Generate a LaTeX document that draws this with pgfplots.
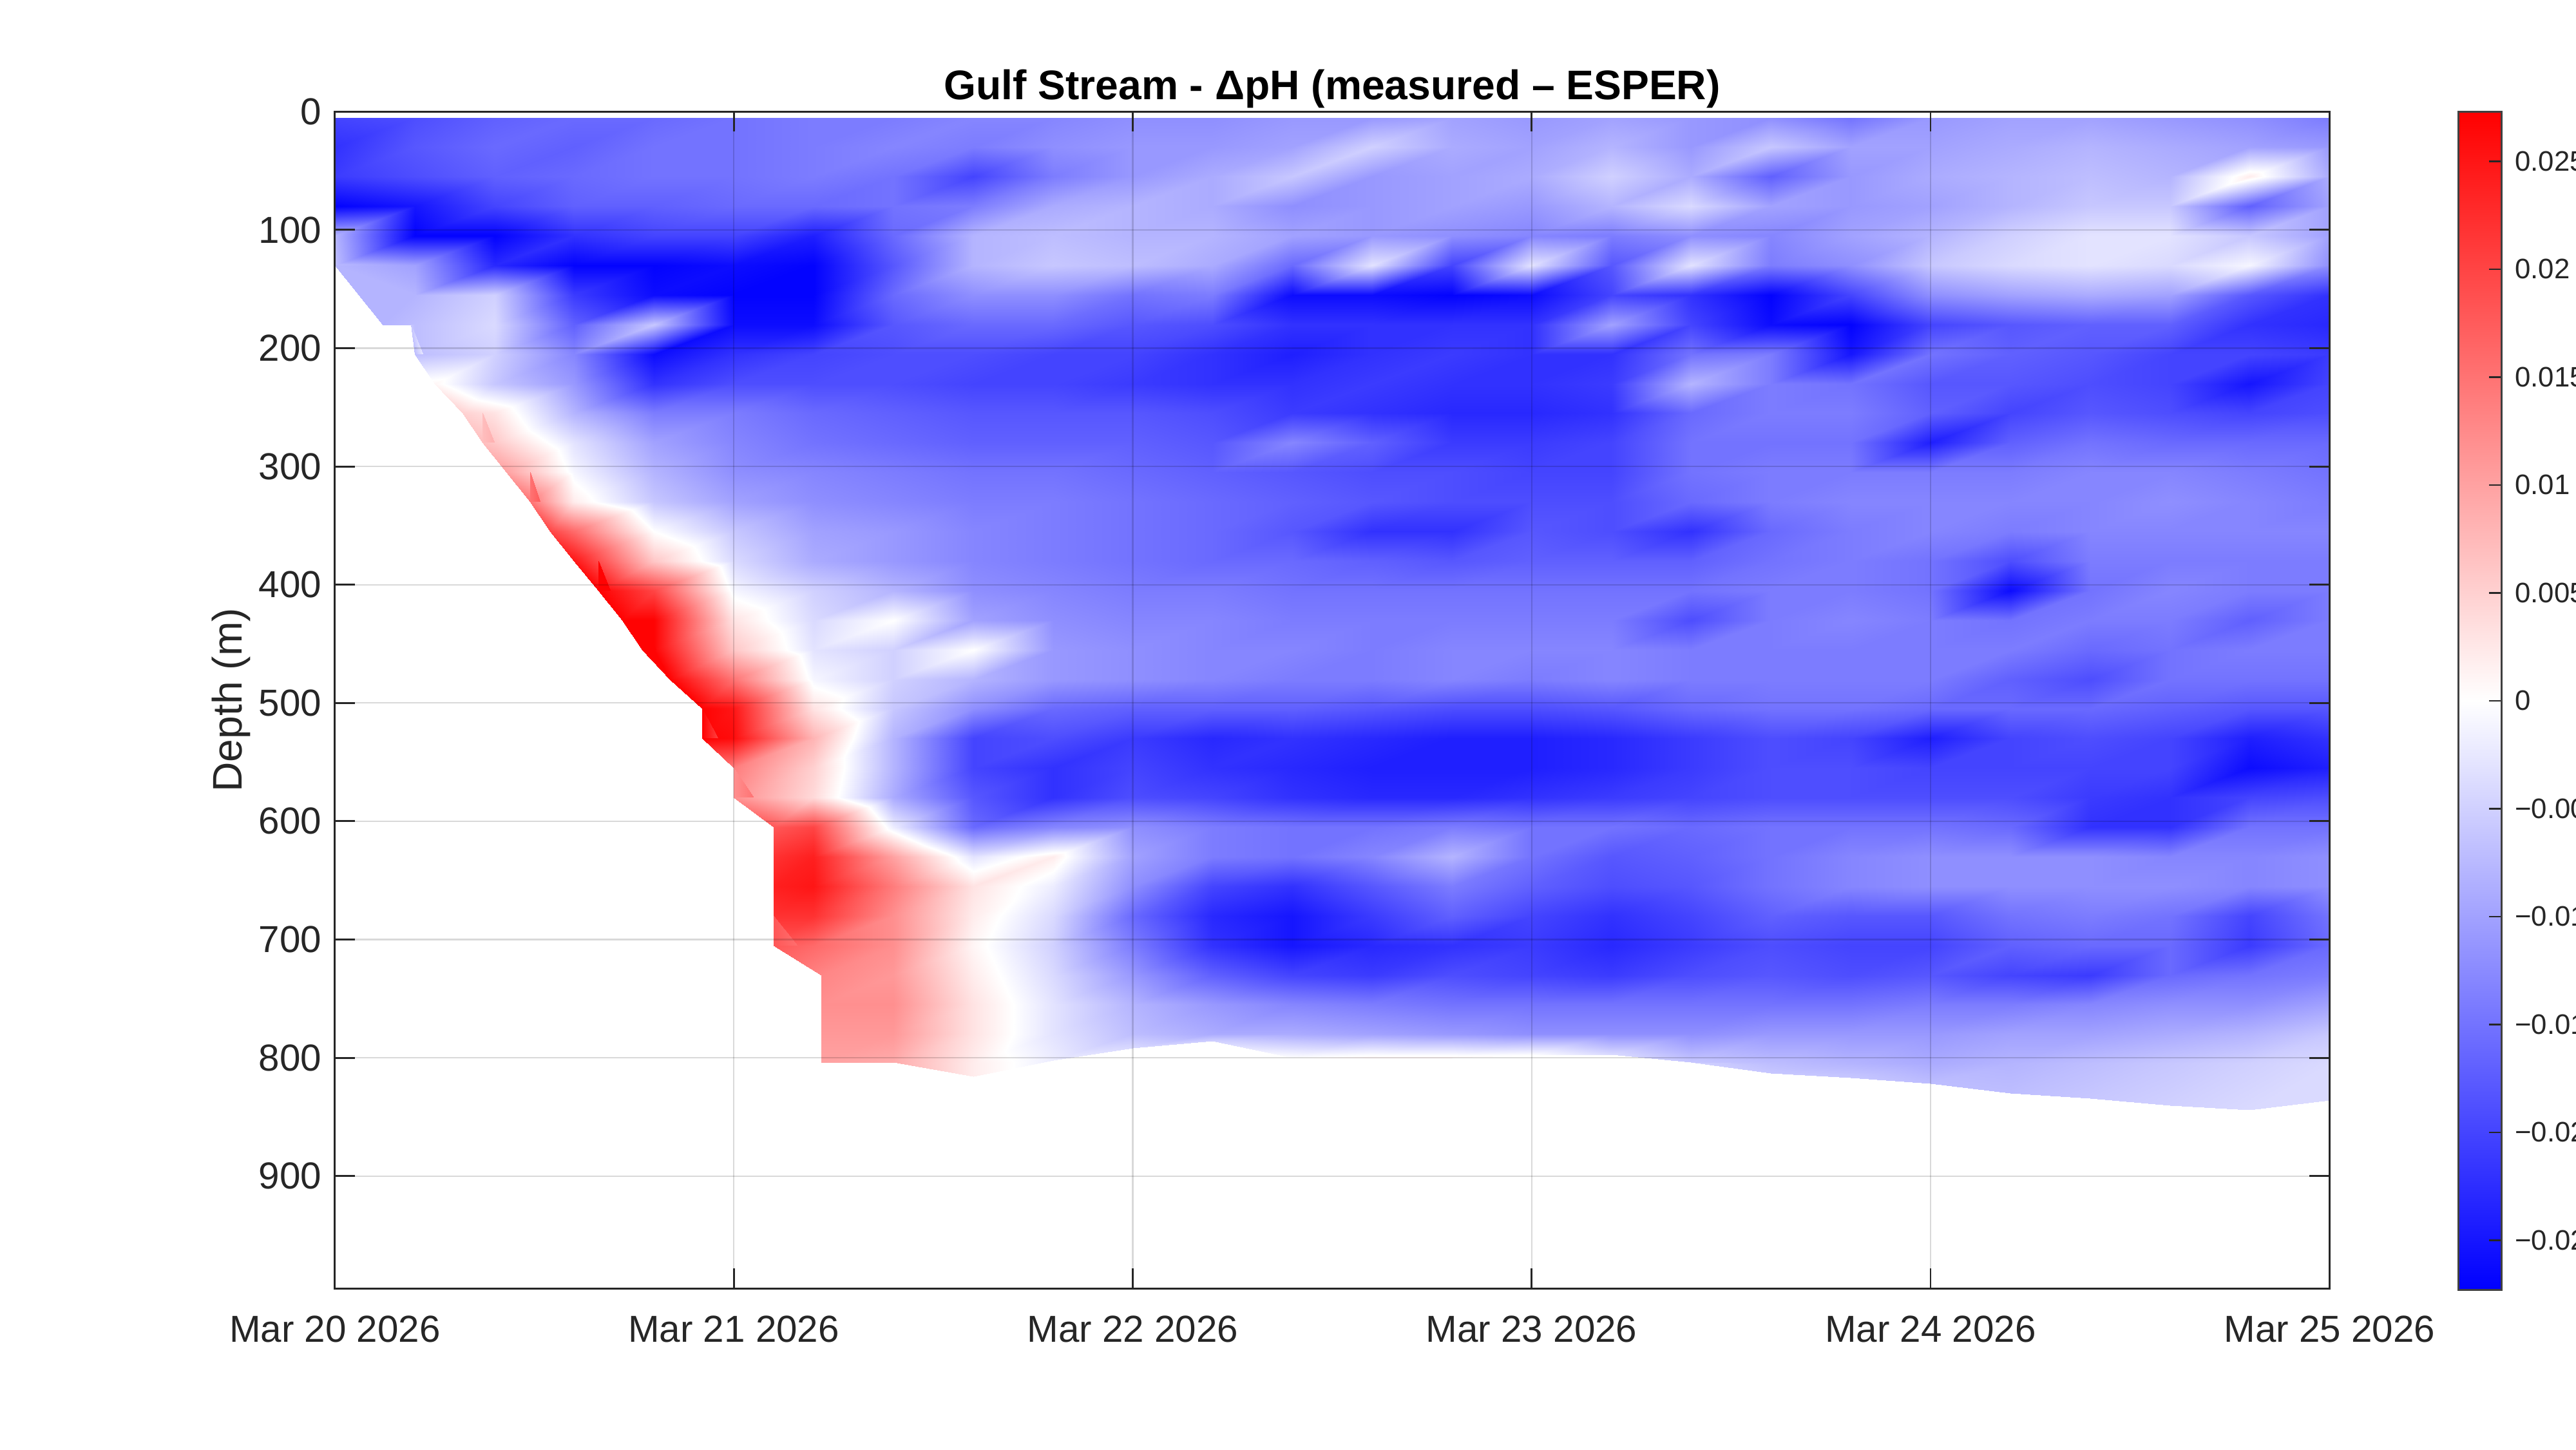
\documentclass[border=0pt]{standalone}
\usepackage{fontspec}
\setmainfont{Liberation Sans}
\usepackage{pgfplots}
\usepackage{pgfplotstable}
\pgfplotsset{compat=1.18}

% Each entry: dpH (units of 0.001 pH), left data edge xb (days; grid x below it is moved to it),
% depth offset dy (m, for the lower data edge). One line per depth 5, 30, ..., 830 m;
% 26 entries per line for days 0, 0.2, ..., 5.0 after Mar 20 2026.
\pgfplotstableread[row sep=\\, header=false]{
-20 0 0\\-19 0 0\\-17 0 0\\-16 0 0\\-16 0 0\\-15 0 0\\-14 0 0\\-14 0 0\\-13 0 0\\-13 0 0\\-12 0 0\\-12 0 0\\-11 0 0\\-11 0 0\\-10 0 0\\-11 0 0\\-10 0 0\\-11 0 0\\-12 0 0\\-15 0 0\\-11 0 0\\-10 0 0\\-10 0 0\\-11 0 0\\-12 0 0\\-14 0 0\\
-22 0 0\\-18 0 0\\-16 0 0\\-17 0 0\\-15 0 0\\-15 0 0\\-14 0 0\\-13 0 0\\-14 0 0\\-12 0 0\\-11 0 0\\-11 0 0\\-10 0 0\\-5 0 0\\-9 0 0\\-10 0 0\\-8 0 0\\-11 0 0\\-6 0 0\\-10 0 0\\-10 0 0\\-9 0 0\\-8 0 0\\-9 0 0\\-10 0 0\\-11 0 0\\
-21 0 0\\-19 0 0\\-17 0 0\\-16 0 0\\-15 0 0\\-15 0 0\\-14 0 0\\-15 0 0\\-20 0 0\\-14 0 0\\-11 0 0\\-9 0 0\\-6 0 0\\-11 0 0\\-10 0 0\\-9 0 0\\-5 0 0\\-9 0 0\\-17 0 0\\-11 0 0\\-9 0 0\\-8 0 0\\-7 0 0\\-8 0 0\\2 0 0\\-9 0 0\\
-27 0 0\\-25 0 0\\-20 0 0\\-17 0 0\\-17 0 0\\-16 0 0\\-16 0 0\\-15 0 0\\-14 0 0\\-9 0 0\\-8 0 0\\-9 0 0\\-12 0 0\\-11 0 0\\-10 0 0\\-11 0 0\\-8 0 0\\-4 0 0\\-10 0 0\\-11 0 0\\-10 0 0\\-8 0 0\\-6 0 0\\-6 0 0\\-17 0 0\\-10 0 0\\
-8 0 0\\-27 0 0\\-27 0 0\\-22 0 0\\-20 0 0\\-20 0 0\\-24 0 0\\-16 0 0\\-8 0 0\\-7 0 0\\-8 0 0\\-8 0 0\\-10 0 0\\-11 0 0\\-12 0 0\\-13 0 0\\-14 0 0\\-12 0 0\\-13 0 0\\-10 0 0\\-8 0 0\\-5 0 0\\-3 0 0\\-3 0 0\\-6 0 0\\-10 0 0\\
-7 0 0\\-10 0 0\\-23 0 0\\-27 0 0\\-27 0 0\\-26 0 0\\-27 0 0\\-18 0 0\\-8 0 0\\-6 0 0\\-7 0 0\\-9 0 0\\-16 0 0\\-3 0 0\\-20 0 0\\-3 0 0\\-18 0 0\\-3 0 0\\-14 0 0\\-12 0 0\\-6 0 0\\-4 0 0\\-3 0 0\\-4 0 0\\-1 0 0\\-12 0 0\\
-8 0 0\\-8 0 0\\-5 0 0\\-21 0 0\\-26 0 0\\-27 0 0\\-27 0 0\\-16 0 0\\-12 0 0\\-12 0 0\\-15 0 0\\-14 0 0\\-26 0 0\\-26 0 0\\-27 0 0\\-26 0 0\\-20 0 0\\-22 0 0\\-27 0 0\\-20 0 0\\-12 0 0\\-10 0 0\\-9 0 0\\-10 0 0\\-18 0 0\\-22 0 0\\
-8 0.12 0\\-7 0.12 0\\-4 0.12 0\\-17 0.12 0\\-6 0.12 0\\-26 0.12 0\\-26 0.12 0\\-18 0.12 0\\-16 0.12 0\\-16 0.12 0\\-18 0.12 0\\-19 0.12 0\\-22 0.12 0\\-22 0.12 0\\-22 0.12 0\\-22 0.12 0\\-10 0.12 0\\-20 0.12 0\\-26 0.12 0\\-27 0.12 0\\-20 0.12 0\\-18 0.12 0\\-17 0.12 0\\-17 0.12 0\\-22 0.12 0\\-23 0.12 0\\
-6 0.19 0\\-7 0.19 0\\-5 0.19 0\\-13 0.19 0\\-26 0.19 0\\-22 0.19 0\\-20 0.19 0\\-19 0.19 0\\-19 0.19 0\\-20 0.19 0\\-20 0.19 0\\-22 0.19 0\\-24 0.19 0\\-22 0.19 0\\-21 0.19 0\\-22 0.19 0\\-22 0.19 0\\-15 0.19 0\\-14 0.19 0\\-25 0.19 0\\-15 0.19 0\\-17 0.19 0\\-18 0.19 0\\-20 0.19 0\\-20 0.19 0\\-21 0.19 0\\
1 0.25 0\\1 0.25 0\\-6 0.25 0\\-11 0.25 0\\-22 0.25 0\\-19 0.25 0\\-19 0.25 0\\-19 0.25 0\\-20 0.25 0\\-20 0.25 0\\-21 0.25 0\\-22 0.25 0\\-22 0.25 0\\-21 0.25 0\\-22 0.25 0\\-22 0.25 0\\-21 0.25 0\\-8 0.25 0\\-14 0.25 0\\-15 0.25 0\\-18 0.25 0\\-18 0.25 0\\-19 0.25 0\\-20 0.25 0\\-25 0.25 0\\-20 0.25 0\\
5 0.32 0\\5 0.32 0\\3 0.32 0\\-8 0.32 0\\-14 0.32 0\\-14 0.32 0\\-16 0.32 0\\-17 0.32 0\\-18 0.32 0\\-18 0.32 0\\-18 0.32 0\\-19 0.32 0\\-21 0.32 0\\-22 0.32 0\\-23 0.32 0\\-23 0.32 0\\-22 0.32 0\\-16 0.32 0\\-14 0.32 0\\-14 0.32 0\\-17 0.32 0\\-20 0.32 0\\-18 0.32 0\\-19 0.32 0\\-20 0.32 0\\-19 0.32 0\\
7 0.37 0\\7 0.37 0\\6 0.37 0\\-3 0.37 0\\-10 0.37 0\\-13 0.37 0\\-15 0.37 0\\-16 0.37 0\\-17 0.37 0\\-17 0.37 0\\-17 0.37 0\\-18 0.37 0\\-13 0.37 0\\-17 0.37 0\\-21 0.37 0\\-21 0.37 0\\-20 0.37 0\\-15 0.37 0\\-15 0.37 0\\-15 0.37 0\\-24 0.37 0\\-17 0.37 0\\-15 0.37 0\\-16 0.37 0\\-16 0.37 0\\-16 0.37 0\\
10 0.43 0\\10 0.43 0\\10 0.43 0\\-1 0.43 0\\-8 0.43 0\\-12 0.43 0\\-13 0.43 0\\-14 0.43 0\\-15 0.43 0\\-15 0.43 0\\-16 0.43 0\\-17 0.43 0\\-18 0.43 0\\-19 0.43 0\\-19 0.43 0\\-20 0.43 0\\-20 0.43 0\\-15 0.43 0\\-14 0.43 0\\-14 0.43 0\\-14 0.43 0\\-14 0.43 0\\-13 0.43 0\\-13 0.43 0\\-14 0.43 0\\-15 0.43 0\\
15 0.49 0\\15 0.49 0\\15 0.49 0\\2 0.49 0\\-6 0.49 0\\-10 0.49 0\\-12 0.49 0\\-13 0.49 0\\-14 0.49 0\\-14 0.49 0\\-15 0.49 0\\-16 0.49 0\\-17 0.49 0\\-18 0.49 0\\-19 0.49 0\\-19 0.49 0\\-19 0.49 0\\-16 0.49 0\\-14 0.49 0\\-13 0.49 0\\-13 0.49 0\\-13 0.49 0\\-13 0.49 0\\-12 0.49 0\\-13 0.49 0\\-14 0.49 0\\
20 0.54 0\\20 0.54 0\\20 0.54 0\\16 0.54 0\\0 0.54 0\\-6 0.54 0\\-10 0.54 0\\-11 0.54 0\\-13 0.54 0\\-14 0.54 0\\-15 0.54 0\\-16 0.54 0\\-18 0.54 0\\-22 0.54 0\\-22 0.54 0\\-18 0.54 0\\-19 0.54 0\\-22 0.54 0\\-16 0.54 0\\-14 0.54 0\\-13 0.54 0\\-14 0.54 0\\-13 0.54 0\\-13 0.54 0\\-13 0.54 0\\-13 0.54 0\\
25 0.6 0\\25 0.6 0\\25 0.6 0\\25 0.6 0\\6 0.6 0\\-4 0.6 0\\-9 0.6 0\\-11 0.6 0\\-13 0.6 0\\-14 0.6 0\\-15 0.6 0\\-16 0.6 0\\-16 0.6 0\\-17 0.6 0\\-18 0.6 0\\-17 0.6 0\\-17 0.6 0\\-17 0.6 0\\-15 0.6 0\\-14 0.6 0\\-15 0.6 0\\-19 0.6 0\\-14 0.6 0\\-14 0.6 0\\-14 0.6 0\\-14 0.6 0\\
27 0.66 0\\27 0.66 0\\27 0.66 0\\27 0.66 0\\20 0.66 0\\-1 0.66 0\\-5 0.66 0\\-8 0.66 0\\-12 0.66 0\\-13 0.66 0\\-14 0.66 0\\-14 0.66 0\\-15 0.66 0\\-15 0.66 0\\-15 0.66 0\\-15 0.66 0\\-15 0.66 0\\-15 0.66 0\\-14 0.66 0\\-14 0.66 0\\-15 0.66 0\\-26 0.66 0\\-15 0.66 0\\-13 0.66 0\\-14 0.66 0\\-14 0.66 0\\
27 0.72 0\\27 0.72 0\\27 0.72 0\\27 0.72 0\\27 0.72 0\\3 0.72 0\\-4 0.72 0\\0 0.72 0\\-10 0.72 0\\-12 0.72 0\\-13 0.72 0\\-13 0.72 0\\-14 0.72 0\\-14 0.72 0\\-14 0.72 0\\-14 0.72 0\\-14 0.72 0\\-19 0.72 0\\-14 0.72 0\\-13 0.72 0\\-14 0.72 0\\-15 0.72 0\\-14 0.72 0\\-14 0.72 0\\-17 0.72 0\\-14 0.72 0\\
27 0.77 0\\27 0.77 0\\27 0.77 0\\27 0.77 0\\27 0.77 0\\6 0.77 0\\-3 0.77 0\\-5 0.77 0\\0 0.77 0\\-11 0.77 0\\-12 0.77 0\\-13 0.77 0\\-13 0.77 0\\-14 0.77 0\\-13 0.77 0\\-13 0.77 0\\-13 0.77 0\\-14 0.77 0\\-14 0.77 0\\-14 0.77 0\\-14 0.77 0\\-14 0.77 0\\-16 0.77 0\\-15 0.77 0\\-14 0.77 0\\-14 0.77 0\\
27 0.84 0\\27 0.84 0\\27 0.84 0\\27 0.84 0\\27 0.84 0\\15 0.84 0\\-1 0.84 0\\-5 0.84 0\\-8 0.84 0\\-11 0.84 0\\-12 0.84 0\\-13 0.84 0\\-14 0.84 0\\-14 0.84 0\\-13 0.84 0\\-14 0.84 0\\-13 0.84 0\\-14 0.84 0\\-14 0.84 0\\-14 0.84 0\\-14 0.84 0\\-17 0.84 0\\-19 0.84 0\\-15 0.84 0\\-15 0.84 0\\-15 0.84 0\\
27 0.92 0\\27 0.92 0\\27 0.92 0\\27 0.92 0\\27 0.92 0\\25 0.92 0\\3 0.92 0\\-6 0.92 0\\-12 0.92 0\\-16 0.92 0\\-17 0.92 0\\-17 0.92 0\\-17 0.92 0\\-18 0.92 0\\-19 0.92 0\\-19 0.92 0\\-18 0.92 0\\-16 0.92 0\\-15 0.92 0\\-15 0.92 0\\-16 0.92 0\\-16 0.92 0\\-16 0.92 0\\-17 0.92 0\\-18 0.92 0\\-18 0.92 0\\
27 0.92 0\\27 0.92 0\\27 0.92 0\\27 0.92 0\\27 0.92 0\\26 0.92 0\\8 0.92 0\\-8 0.92 0\\-20 0.92 0\\-19 0.92 0\\-21 0.92 0\\-23 0.92 0\\-22 0.92 0\\-23 0.92 0\\-24 0.92 0\\-24 0.92 0\\-23 0.92 0\\-21 0.92 0\\-19 0.92 0\\-20 0.92 0\\-24 0.92 0\\-20 0.92 0\\-19 0.92 0\\-20 0.92 0\\-24 0.92 0\\-22 0.92 0\\
14 1 0\\14 1 0\\14 1 0\\14 1 0\\14 1 0\\14 1 0\\5 1 0\\-8 1 0\\-20 1 0\\-22 1 0\\-20 1 0\\-22 1 0\\-23 1 0\\-24 1 0\\-24 1 0\\-24 1 0\\-23 1 0\\-21 1 0\\-19 1 0\\-19 1 0\\-20 1 0\\-20 1 0\\-20 1 0\\-20 1 0\\-26 1 0\\-24 1 0\\
12 1 0\\12 1 0\\12 1 0\\12 1 0\\12 1 0\\12 1 0\\4 1 0\\-9 1 0\\-18 1 0\\-22 1 0\\-19 1 0\\-20 1 0\\-22 1 0\\-23 1 0\\-23 1 0\\-22 1 0\\-21 1 0\\-20 1 0\\-19 1 0\\-19 1 0\\-19 1 0\\-19 1 0\\-21 1 0\\-22 1 0\\-20 1 0\\-19 1 0\\
18 1.1 0\\18 1.1 0\\18 1.1 0\\18 1.1 0\\18 1.1 0\\18 1.1 0\\20 1.1 0\\-2 1.1 0\\-16 1.1 0\\-13 1.1 0\\-12 1.1 0\\-14 1.1 0\\-15 1.1 0\\-15 1.1 0\\-14 1.1 0\\-15 1.1 0\\-15 1.1 0\\-16 1.1 0\\-15 1.1 0\\-15 1.1 0\\-15 1.1 0\\-16 1.1 0\\-22 1.1 0\\-22 1.1 0\\-15 1.1 0\\-15 1.1 0\\
22 1.1 0\\22 1.1 0\\22 1.1 0\\22 1.1 0\\22 1.1 0\\22 1.1 0\\24 1.1 0\\10 1.1 0\\-3 1.1 0\\2 1.1 0\\-10 1.1 0\\-14 1.1 0\\-15 1.1 0\\-13 1.1 0\\-8 1.1 0\\-15 1.1 0\\-18 1.1 0\\-17 1.1 0\\-15 1.1 0\\-13 1.1 0\\-12 1.1 0\\-12 1.1 0\\-12 1.1 0\\-13 1.1 0\\-13 1.1 0\\-12 1.1 0\\
24 1.1 0\\24 1.1 0\\24 1.1 0\\24 1.1 0\\24 1.1 0\\24 1.1 0\\25 1.1 0\\14 1.1 0\\3 1.1 0\\-2 1.1 0\\-12 1.1 0\\-20 1.1 0\\-22 1.1 0\\-18 1.1 0\\-14 1.1 0\\-17 1.1 0\\-19 1.1 0\\-18 1.1 0\\-15 1.1 0\\-13 1.1 0\\-12 1.1 0\\-12 1.1 0\\-12 1.1 0\\-12 1.1 0\\-13 1.1 0\\-12 1.1 0\\
22 1.1 0\\22 1.1 0\\22 1.1 0\\22 1.1 0\\22 1.1 0\\22 1.1 0\\22 1.1 0\\12 1.1 0\\2 1.1 0\\-4 1.1 0\\-16 1.1 0\\-23 1.1 0\\-25 1.1 0\\-21 1.1 0\\-17 1.1 0\\-20 1.1 0\\-22 1.1 0\\-20 1.1 0\\-17 1.1 0\\-18 1.1 0\\-18 1.1 0\\-15 1.1 0\\-14 1.1 0\\-15 1.1 0\\-20 1.1 0\\-15 1.1 0\\
18 1.1 0\\18 1.1 0\\18 1.1 0\\18 1.1 0\\18 1.1 0\\18 1.1 0\\16 1.1 0\\12 1.1 0\\1 1.1 0\\-5 1.1 0\\-14 1.1 0\\-22 1.1 0\\-25 1.1 0\\-23 1.1 0\\-22 1.1 0\\-21 1.1 0\\-23 1.1 0\\-21 1.1 0\\-19 1.1 0\\-20 1.1 0\\-20 1.1 0\\-17 1.1 0\\-16 1.1 0\\-16 1.1 0\\-21 1.1 0\\-16 1.1 0\\
13 1.22 0\\13 1.22 0\\13 1.22 0\\13 1.22 0\\13 1.22 0\\13 1.22 0\\13 1.22 0\\11 1.22 0\\2 1.22 0\\-4 1.22 0\\-11 1.22 0\\-17 1.22 0\\-20 1.22 0\\-21 1.22 0\\-19 1.22 0\\-20 1.22 0\\-21 1.22 0\\-19 1.22 0\\-18 1.22 0\\-19 1.22 0\\-18 1.22 0\\-20 1.22 0\\-21 1.22 0\\-16 1.22 0\\-15 1.22 0\\-14 1.22 0\\
12 1.22 0\\12 1.22 0\\12 1.22 0\\12 1.22 0\\12 1.22 0\\12 1.22 0\\12 1.22 0\\12 1.22 0\\3 1.22 0\\-3 1.22 0\\-8 1.22 0\\-11 1.22 0\\-13 1.22 0\\-14 1.22 0\\-15 1.22 0\\-15 1.22 0\\-15 1.22 0\\-15 1.22 0\\-15 1.22 0\\-15 1.22 0\\-14 1.22 0\\-14 1.22 0\\-13 1.22 0\\-12 1.22 0\\-12 1.22 0\\-10 1.22 0\\
11 1.22 0\\11 1.22 0\\11 1.22 0\\11 1.22 0\\11 1.22 0\\11 1.22 0\\11 1.22 0\\11 1.22 0\\3 1.22 0\\-3 1.22 0\\-7 1.22 0\\-9 1.22 0\\-9 1.22 0\\-10 1.22 0\\-11 1.22 0\\-12 1.22 0\\-12 1.22 0\\-12 1.22 0\\-11 1.22 0\\-11 1.22 0\\-11 1.22 0\\-10 1.22 0\\-10 1.22 0\\-9 1.22 0\\-8 1.22 0\\-6 1.22 0\\
10 1.22 -1\\10 1.22 -1\\10 1.22 -1\\10 1.22 -1\\10 1.22 -1\\10 1.22 -1\\10 1.22 -1\\9 1.22 -1\\2 1.22 0\\-2 1.22 -3\\-4 1.22 -13\\-5 1.22 -19\\0 1.22 -5\\1 1.22 -5\\1 1.22 -5\\0 1.22 -7\\-4 1.22 -8\\-6 1.22 -1\\-7 1.22 0\\-8 1.22 0\\-9 1.22 0\\-8 1.22 0\\-7 1.22 0\\-6 1.22 0\\-5 1.22 0\\-4 1.22 0\\
10 1.22 -26\\10 1.22 -26\\10 1.22 -26\\10 1.22 -26\\10 1.22 -26\\10 1.22 -26\\10 1.22 -26\\9 1.22 -26\\2 1.22 -14\\-2 1.22 -28\\-4 1.22 -38\\-5 1.22 -44\\0 1.22 -30\\1 1.22 -30\\1 1.22 -30\\0 1.22 -32\\-4 1.22 -33\\-5 1.22 -26\\-6 1.22 -17\\-6 1.22 -13\\-7 1.22 -8\\-7 1.22 0\\-6 1.22 4\\-5 1.22 10\\-4 1.22 14\\-4 1.22 6\\
}\dphtable

\begin{document}
\begin{tikzpicture}
\begin{axis}[
  at={(0,0)}, anchor=south west,
  scale only axis, width=530.7pt, height=313.1pt,
  xmin=0, xmax=5, ymin=0, ymax=995, y dir=reverse,
  xtick={0,1,2,3,4,5},
  xticklabels={Mar 20 2026,Mar 21 2026,Mar 22 2026,Mar 23 2026,Mar 24 2026,Mar 25 2026},
  ytick={0,100,200,300,400,500,600,700,800,900},
  tick align=inside, tick pos=both, major tick length=5.3pt,
  grid=major, grid style={black, opacity=0.15, line width=0.4pt},
  axis on top,
  axis line style={black!85, line width=0.5pt},
  every tick/.style={black!85, line width=0.5pt},
  tick label style={font=\fontsize{10}{12}\selectfont, text=black!85},
  /pgf/number format/assume math mode=true,
  xticklabel style={yshift=-3.7pt},
  ylabel={Depth (m)},
  ylabel style={font=\fontsize{11}{13}\selectfont, text=black!85, at={(axis description cs:-0.0467,0.5)}, anchor=base},
  title={Gulf Stream - ΔpH (measured – ESPER)},
  every axis title/.style={at={(0.5,1)}, anchor=base, yshift=3.3pt, font=\bfseries\fontsize{11}{13}\selectfont},
  colormap={bwr}{rgb255=(0,0,255) rgb255=(255,255,255) rgb255=(255,0,0)},
  point meta min=-0.0273, point meta max=0.0273,
  colorbar,
  colorbar style={
    at={(parent axis.north east)}, anchor=north west, xshift=25.8pt,
    scale only axis, width=11.5pt, height=313.5pt,
    ytick={-0.025,-0.02,-0.015,-0.01,-0.005,0,0.005,0.01,0.015,0.02,0.025},
    yticklabels={−0.025,−0.02,−0.015,−0.01,−0.005,0,0.005,0.01,0.015,0.02,0.025},
    scaled y ticks=false,
    ytick pos=right, yticklabel pos=right,
    tick align=inside, major tick length=3.3pt,
    axis line style={black!75, line width=0.5pt},
    every tick/.style={black!85, line width=0.4pt},
    yticklabel style={font=\fontsize{7.5}{9}\selectfont, text=black!85},
  },
]
\addplot[surf, shader=interp, mesh/cols=26, mesh/ordering=x varies, point meta=explicit]
  table[x index=0, y index=0,
        x expr={max(mod(\coordindex,26)*0.2,\thisrowno{1})},
        y expr={5+25*floor(\coordindex/26)+\thisrowno{2}},
        meta expr={\thisrowno{0}/1000}] {\dphtable};
\end{axis}
\pgfresetboundingbox
\path[use as bounding box] (-89.1pt,-42.9pt) rectangle (596.3pt,342.8pt);
\end{tikzpicture}
\end{document}
